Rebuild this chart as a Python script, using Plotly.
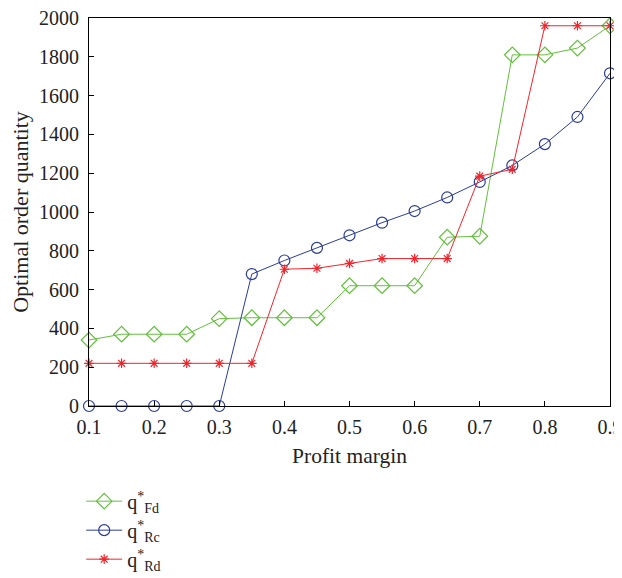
import plotly.graph_objects as go

margin = [0.1, 0.15, 0.2, 0.25, 0.3, 0.35, 0.4, 0.45, 0.5, 0.55, 0.6, 0.65, 0.7, 0.75, 0.8, 0.85, 0.9]
q_fd = [340, 370, 370, 370, 450, 455, 455, 455, 620, 620, 620, 870, 875, 1810, 1810, 1845, 1960]
q_rc = [0, 0, 0, 0, 0, 680, 750, 815, 880, 945, 1005, 1075, 1155, 1240, 1350, 1490, 1715]
q_rd = [220, 220, 220, 220, 220, 220, 705, 710, 735, 760, 760, 760, 1185, 1220, 1960, 1960, 1960]

names = ["q<sup>*</sup><sub>Fd</sub>", "q<sup>*</sup><sub>Rc</sub>", "q<sup>*</sup><sub>Rd</sub>"]
colors = ["#63bf3c", "#2b3c98", "#f2242b"]
symbols = ["diamond-open", "circle-open", "asterisk-open"]
sizes = [12, 11, 8]

FONT = "Liberation Serif"

fig = go.Figure()
for y, n, c, s, sz in zip([q_fd, q_rc, q_rd], names, colors, symbols, sizes):
    fig.add_trace(go.Scatter(
        x=margin, y=y, name=n, mode="lines+markers",
        line=dict(color=c, width=1),
        marker=dict(symbol=s, size=sz, color=c, line=dict(color=c, width=1.2)),
        cliponaxis=False,
    ))

axis_common = dict(
    showline=True, linecolor="black", linewidth=1.2, mirror=True,
    ticks="inside", ticklen=5, tickcolor="black", showgrid=False, zeroline=False,
    tickfont=dict(family=FONT, size=20, color="#222"), automargin=False,
    ticklabeloverflow="allow",
)

fig.update_layout(
    width=614, height=570,
    margin=dict(l=81, r=12, t=10, b=172, autoexpand=False),
    paper_bgcolor="white", plot_bgcolor="white",
    font=dict(family=FONT, size=20, color="#222"),
    xaxis=dict(range=[0.1, 0.9], tickvals=[0.1, 0.2, 0.3, 0.4, 0.5, 0.6, 0.7, 0.8, 0.9],
               ticktext=["0.1", "0.2", "0.3", "0.4", "0.5", "0.6", "0.7", "0.8", "0.9"],
               ticklabelstandoff=3,
               title=dict(text="Profit margin", font=dict(family=FONT, size=21.5), standoff=10),
               **axis_common),
    yaxis=dict(range=[0, 2000], dtick=200, ticklabelstandoff=5,
               title=dict(text="Optimal order quantity", font=dict(family=FONT, size=22), standoff=10),
               **axis_common),
    legend=dict(x=-0.015, xanchor="left", y=-0.195, yanchor="top",
                font=dict(family=FONT, size=20),
                bgcolor="rgba(0,0,0,0)", itemwidth=36),
    showlegend=True,
)

fig.write_html("out.html")
